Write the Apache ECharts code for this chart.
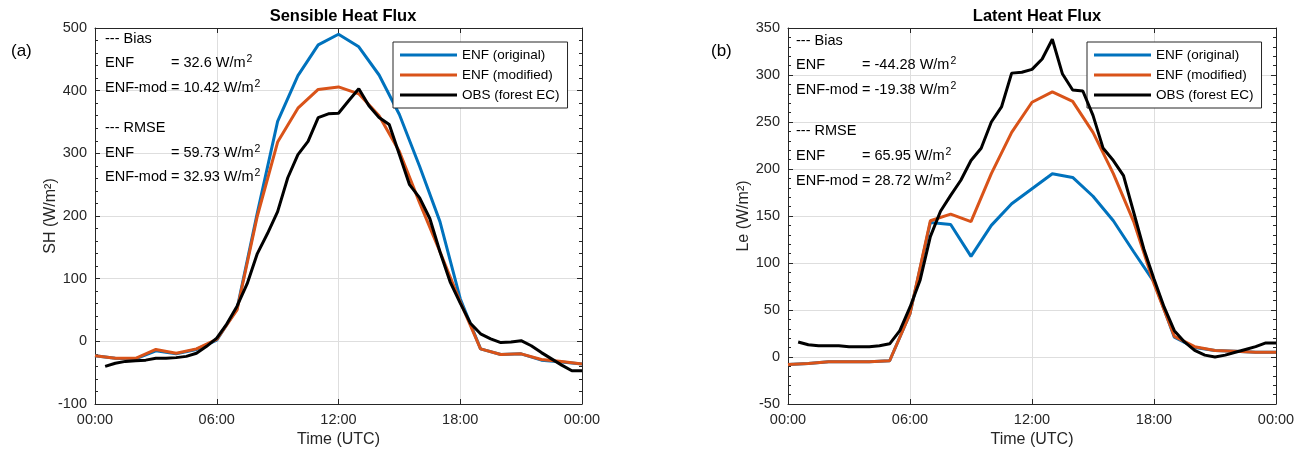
<!DOCTYPE html>
<html>
<head>
<meta charset="utf-8">
<script src="https://cdn.jsdelivr.net/npm/echarts@6/dist/echarts.min.js"></script>
<style>html,body{margin:0;padding:0;background:#fff}#c{width:1304px;height:453px}</style>
</head>
<body>
<div id="c"></div>
<script>
// ---- data ----
const hourlyTimes = [0,1,2,3,4,5,6,7,8,9,10,11,12,13,14,15,16,17,18,19,20,21,22,23,24];
const halfHourTimes = [0.5,1,1.5,2,2.5,3,3.5,4,4.5,5,5.5,6,6.5,7,7.5,8,8.5,9,9.5,10,10.5,11,11.5,12,12.5,13,13.5,14,14.5,15,15.5,16,16.5,17,17.5,18,18.5,19,19.5,20,20.5,21,21.5,22,22.5,23,23.5,24];

// Sensible heat flux (W/m2)
const shOriginal = [-23,-27,-28,-15,-20,-13,2,52,205,351,424,473,490,470,425,362,279,191,68,-12,-21,-20,-30,-33,-36];
const shModified = [-23,-27,-27,-13,-19,-12,3,50,200,318,372,402,406,395,360,303,221,143,63,-12,-21,-20,-29,-32,-36];
const shObs = [-40,-35,-32,-31,-30,-27,-27,-26,-24,-19,-8,5,28,56,92,140,172,207,261,298,319,357,363,364,384,403,376,357,346,298,250,229,196,143,95,61,29,12,4,-2,-1,1,-7,-18,-28,-38,-47,-47];

// Latent heat flux (W/m2)
const leOriginal = [-8,-7,-5,-5,-5,-4,46,143,141,107,140,163,179,195,191,171,145,112,80,21,10,7,6,5,5];
const leModified = [-8,-7,-5,-5,-5,-4,46,145,152,144,195,239,271,282,272,239,195,144,78,22,11,7,6,5,5];
const leObs = [16,13,12,12,12,11,11,11,12,14,28,53,82,128,155,172,188,209,222,250,266,302,303,306,317,338,301,284,283,257,222,209,193,154,115,83,53,28,16,7,2,0,2,5,8,11,15,15];

const seriesNames = ['ENF (original)','ENF (modified)','OBS (forest EC)'];
const seriesColors = ['#0072BD','#D95319','#000000'];
const shYTicks = {min:-100, max:500, interval:100};
const leYTicks = {min:-50, max:350, interval:50};
const xTicks = {min:0, max:24, interval:6};

// ---- chart ----
const pair = (xs, ys) => xs.map((x,i)=>[x, ys[i]]);
const axisColor = '#262626';
const fontFam = '"Liberation Sans", Arial, Helvetica, sans-serif';
const xFmt = v => String(v % 24).padStart(2,'0') + ':00';

function xAx(grid, pos, showLabel, name){
  return {
    type:'value', gridIndex:grid, position:pos, min:xTicks.min, max:xTicks.max, interval:xTicks.interval,
    name: name || '', nameLocation:'middle', nameGap:28, nameMoveOverlap:false,
    nameTextStyle:{fontSize:16, color:axisColor, fontFamily:fontFam},
    axisLine:{show:true, onZero:false, lineStyle:{color:axisColor, width:1}},
    axisTick:{show:true, inside:true, length:5, lineStyle:{color:axisColor}},
    minorTick:{show:false},
    axisLabel:{show:showLabel, formatter:xFmt, fontSize:14.5, color:axisColor, fontFamily:fontFam, margin:8},
    splitLine:{show:pos==='bottom', lineStyle:{color:'#dedede', width:1}}
  };
}
function yAx(grid, pos, showLabel, t, name){
  return {
    type:'value', gridIndex:grid, position:pos, min:t.min, max:t.max, interval:t.interval,
    name: name || '', nameLocation:'middle', nameGap:36, nameRotate:90, nameMoveOverlap:false,
    nameTextStyle:{fontSize:16, color:axisColor, fontFamily:fontFam},
    axisLine:{show:true, onZero:false, lineStyle:{color:axisColor, width:1}},
    axisTick:{show:true, inside:true, length:5, lineStyle:{color:axisColor}},
    minorTick:{show:true, splitNumber:5, length:3, lineStyle:{color:axisColor}},
    axisLabel:{show:showLabel, fontSize:14.5, color:axisColor, fontFamily:fontFam, margin:8},
    splitLine:{show:pos==='left', lineStyle:{color:'#dedede', width:1}}
  };
}
function lineSeries(idx, xi, yi, data){
  return {
    name: seriesNames[idx], type:'line', xAxisIndex:xi, yAxisIndex:yi, data:data,
    symbol:'none', showSymbol:false, lineStyle:{width:3, color:seriesColors[idx]},
    itemStyle:{color:seriesColors[idx]}, z: 2+idx, animation:false
  };
}
function legendAt(left){
  return {
    left:left, top:42, orient:'vertical', icon:'rect', itemWidth:57, itemHeight:3, itemGap:6,
    padding:[6,8,6,7], borderColor:axisColor, borderWidth:1, backgroundColor:'#fff',
    textStyle:{fontSize:13.5, color:'#000', fontFamily:fontFam},
    data: seriesNames, selectedMode:false
  };
}
const rich = {
  n:{fontSize:14.5, color:'#000', fontFamily:fontFam, lineHeight:18},
  s:{fontSize:10.5, color:'#000', fontFamily:fontFam, lineHeight:18, verticalAlign:'top', padding:[0,0,0,1]}
};
function txt(x, y, str){
  return {type:'text', left:x, top:y-9, z:50, style:{text:str, rich:rich, fill:'#000', font:'14.5px '+fontFam}};
}
function annot(x0, xe, ys, v){
  return [
    txt(x0, ys[0], '{n|--- Bias}{s| }'),
    txt(x0, ys[1], '{n|ENF}{s| }'), txt(xe, ys[1], '{n|= '+v[0]+' W/m}{s|2}'),
    txt(x0, ys[2], '{n|ENF-mod}{s| }'), txt(xe, ys[2], '{n|= '+v[1]+' W/m}{s|2}'),
    txt(x0, ys[3], '{n|--- RMSE}{s| }'),
    txt(x0, ys[4], '{n|ENF}{s| }'), txt(xe, ys[4], '{n|= '+v[2]+' W/m}{s|2}'),
    txt(x0, ys[5], '{n|ENF-mod}{s| }'), txt(xe, ys[5], '{n|= '+v[3]+' W/m}{s|2}')
  ];
}

const chart = echarts.init(document.getElementById('c'), null, {renderer:'canvas'});
chart.setOption({
  animation:false,
  backgroundColor:'#fff',
  title:[
    {text:'Sensible Heat Flux', left:338, top:3, textAlign:'center', textStyle:{fontSize:16.5, fontWeight:'bold', color:'#000', fontFamily:fontFam}},
    {text:'Latent Heat Flux', left:1032, top:3, textAlign:'center', textStyle:{fontSize:16.5, fontWeight:'bold', color:'#000', fontFamily:fontFam}},
    {text:'(a)', left:6, top:38, textStyle:{fontSize:17, fontWeight:'normal', color:'#000', fontFamily:fontFam}},
    {text:'(b)', left:706, top:38, textStyle:{fontSize:17, fontWeight:'normal', color:'#000', fontFamily:fontFam}}
  ],
  grid:[
    {left:95, right:722, top:28, bottom:49},
    {left:788, right:28, top:28, bottom:49}
  ],
  xAxis:[
    xAx(0,'bottom',true,'Time (UTC)'), xAx(0,'top',false),
    xAx(1,'bottom',true,'Time (UTC)'), xAx(1,'top',false)
  ],
  yAxis:[
    yAx(0,'left',true,shYTicks,'SH (W/m²)'), yAx(0,'right',false,shYTicks),
    yAx(1,'left',true,leYTicks,'Le (W/m²)'), yAx(1,'right',false,leYTicks)
  ],
  legend:[legendAt(393), legendAt(1087)],
  series:[
    lineSeries(0,0,0,pair(hourlyTimes, shOriginal)),
    lineSeries(1,0,0,pair(hourlyTimes, shModified)),
    lineSeries(2,0,0,pair(halfHourTimes, shObs)),
    lineSeries(0,2,2,pair(hourlyTimes, leOriginal)),
    lineSeries(1,2,2,pair(hourlyTimes, leModified)),
    lineSeries(2,2,2,pair(halfHourTimes, leObs))
  ],
  graphic: [].concat(
    annot(105, 171, [39,63,88,128,153,177], ['32.6','10.42','59.73','32.93']),
    annot(796, 862, [41,65,90,131,156,181], ['-44.28','-19.38','65.95','28.72'])
  )
});
</script>
</body>
</html>
